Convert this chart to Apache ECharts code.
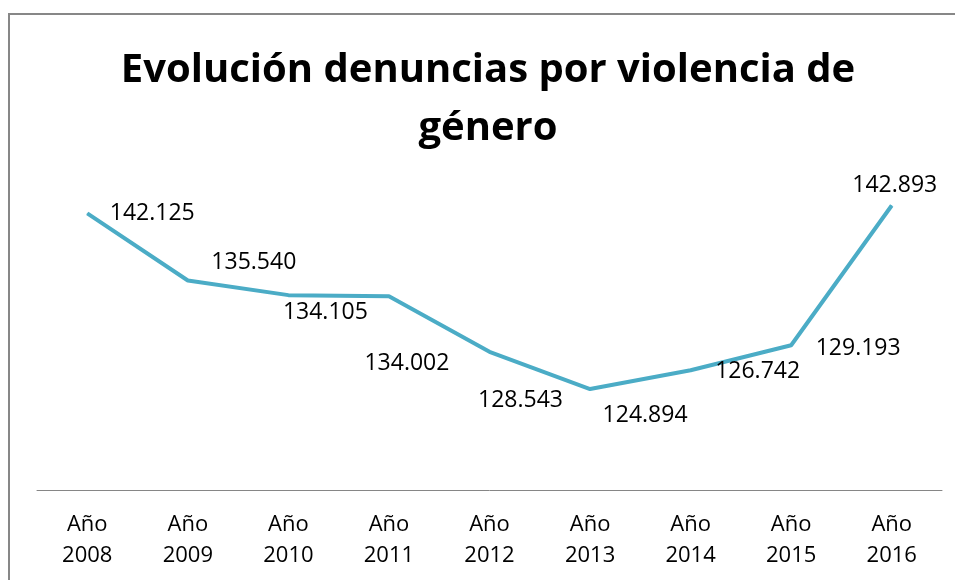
<!DOCTYPE html>
<html>
<head>
<meta charset="utf-8">
<script src="https://cdn.jsdelivr.net/npm/echarts@6/dist/echarts.min.js"></script>
<style>
  html, body { margin: 0; padding: 0; background: #fff; }
  #frame { position: absolute; left: 8px; top: 13px; width: 980px; height: 600px; border: 2px solid #878787; box-sizing: border-box; }
  #chart { position: absolute; left: 0; top: 0; width: 955px; height: 580px; }
</style>
</head>
<body>
<div id="frame"></div>
<div id="chart"></div>
<script>
// datos
var years = ["Año\n2008", "Año\n2009", "Año\n2010", "Año\n2011", "Año\n2012", "Año\n2013", "Año\n2014", "Año\n2015", "Año\n2016"];
var denuncias = [142.125, 135.540, 134.105, 134.002, 128.543, 124.894, 126.742, 129.193, 142.893];
var etiquetas = ["142.125", "135.540", "134.105", "134.002", "128.543", "124.894", "126.742", "129.193", "142.893"];
// desplazamiento de cada etiqueta respecto a su punto
var labelOffsets = [[65, 0], [66, -18], [37, 17], [18, 67], [31, 49], [55, 26], [67, 1], [67, 3], [3, -20]];

var myChart = echarts.init(document.getElementById("chart"));
myChart.setOption({
  animation: false,
  title: {
    text: "Evolución denuncias por violencia de\ngénero",
    left: 483,
    textAlign: "center",
    top: 37,
    textStyle: {
      fontFamily: "Open Sans",
      fontWeight: "bold",
      fontSize: 40,
      lineHeight: 58,
      color: "#000",
    },
  },
  grid: { left: 37, right: 13, top: 184, bottom: 90 },
  xAxis: {
    type: "category",
    data: years,
    boundaryGap: true,
    axisLine: { lineStyle: { color: "#868686", width: 1 } },
    axisTick: { show: false },
    axisLabel: {
      color: "#000",
      fontFamily: "Open Sans",
      fontSize: 22,
      lineHeight: 31,
      margin: 19,
    },
  },
  yAxis: {
    type: "value",
    min: 115,
    max: 145,
    show: false,
  },
  series: [
    {
      type: "line",
      data: denuncias.map(function (v, i) {
        return {
          value: v,
          label: { offset: labelOffsets[i] },
        };
      }),
      symbol: "circle",
      symbolSize: 1,
      lineStyle: { color: "#4BACC6", width: 4 },
      itemStyle: { color: "#4BACC6" },
      label: {
        show: true,
        position: "inside",
        color: "#000",
        fontFamily: "Open Sans",
        fontSize: 23,
        formatter: function (p) { return etiquetas[p.dataIndex]; },
      },
    },
  ],
});
</script>
</body>
</html>
